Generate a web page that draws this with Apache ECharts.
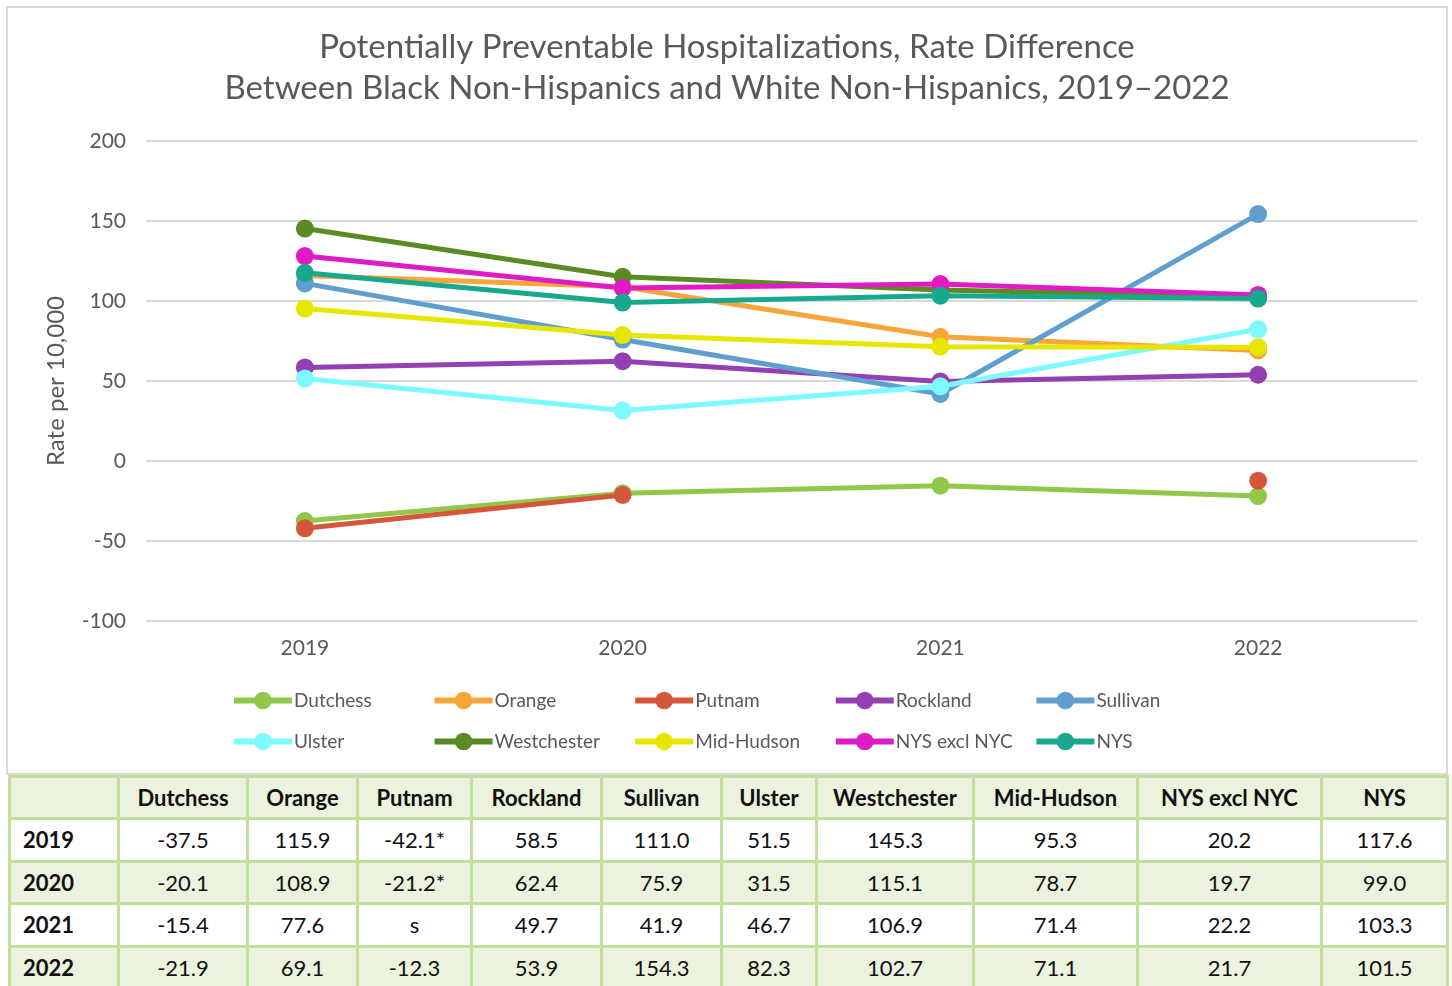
<!DOCTYPE html>
<html>
<head>
<meta charset="utf-8">
<script src="https://cdn.jsdelivr.net/npm/echarts@6/dist/echarts.min.js"></script>
<style>
  body { margin: 0; background: #fff; font-family: Lato, sans-serif; }
  #chart {
    position: absolute; left: 6px; top: 6px;
    width: 1438px; height: 765px;
    border: 2px solid #d9d9d9;
  }
  #tbl {
    position: absolute; left: 8px; top: 775px;
    border-collapse: collapse; table-layout: fixed;
    font-family: Lato, sans-serif; font-size: 22px; color: #111;
  }
  #tbl td, #tbl th {
    border: 3px solid #c3df9c; text-align: center; padding: 0;
    height: 39.5px;
  }
  #tbl th { font-weight: bold; background: #ebf3de; height: 39px; }
  #tbl td.lab { font-weight: bold; text-align: left; padding-left: 12px; }
  #tbl tr.alt td { background: #ebf3de; }
</style>
</head>
<body>
<div id="chart"></div>
<table id="tbl"></table>
<script>
// data
const years = ['2019', '2020', '2021', '2022']
const names = ['Dutchess', 'Orange', 'Putnam', 'Rockland', 'Sullivan', 'Ulster', 'Westchester', 'Mid-Hudson', 'NYS excl NYC', 'NYS']
const colors = ['#92c84a', '#f9a53a', '#d5573b', '#9440b0', '#5e9fd0', '#7dfaff', '#5a8a22', '#e6e600', '#e01bc5', '#17a98d']
const dutchess = [-37.5, -20.1, -15.4, -21.9]
const orange = [115.9, 108.9, 77.6, 69.1]
const putnam = [-42.1, -21.2, null, -12.3]
const rockland = [58.5, 62.4, 49.7, 53.9]
const sullivan = [111.0, 75.9, 41.9, 154.3]
const ulster = [51.5, 31.5, 46.7, 82.3]
const westchester = [145.3, 115.1, 106.9, 102.7]
const midHudson = [95.3, 78.7, 71.4, 71.1]
const nysExclNycPlotted = [128.1, 108.1, 110.6, 103.8]
const nys = [117.6, 99.0, 103.3, 101.5]
const yTicks = [-100, 200, 50]

// table text
const tableRows = [
  ['-37.5', '115.9', '-42.1*', '58.5', '111.0', '51.5', '145.3', '95.3', '20.2', '117.6'],
  ['-20.1', '108.9', '-21.2*', '62.4', '75.9', '31.5', '115.1', '78.7', '19.7', '99.0'],
  ['-15.4', '77.6', 's', '49.7', '41.9', '46.7', '106.9', '71.4', '22.2', '103.3'],
  ['-21.9', '69.1', '-12.3', '53.9', '154.3', '82.3', '102.7', '71.1', '21.7', '101.5']
]
const colWidths = [109, 129, 110, 114, 130, 120, 95, 157, 164, 184, 126]

const seriesData = [dutchess, orange, putnam, rockland, sullivan, ulster, westchester, midHudson, nysExclNycPlotted, nys]

const chart = echarts.init(document.getElementById('chart'))
const txt = '#595959'
const font = 'Lato, sans-serif'

const legends = []
for (let c = 0; c < 5; c++) {
  legends.push({
    orient: 'vertical',
    left: 218 + c * 200.6,
    top: 678,
    itemWidth: 58,
    itemHeight: 22,
    itemGap: 22,
    data: [names[c], names[c + 5]],
    lineStyle: { width: 6 },
    textStyle: { color: txt, fontSize: 19, fontFamily: font, padding: [0, 0, 0, -3] }
  })
}

chart.setOption({
  animation: false,
  title: {
    text: 'Potentially Preventable Hospitalizations, Rate Difference\nBetween Black Non-Hispanics and White Non-Hispanics, 2019\u20132022',
    left: 'center',
    top: 14,
    textStyle: { color: txt, fontSize: 33, fontWeight: 'normal', fontFamily: font, lineHeight: 41 }
  },
  legend: legends,
  grid: { left: 138, top: 133, width: 1271, height: 480 },
  xAxis: {
    type: 'category',
    data: years,
    axisLine: { show: false },
    axisTick: { show: false },
    axisLabel: { color: txt, fontSize: 21, fontFamily: font, margin: 17 }
  },
  yAxis: {
    type: 'value',
    min: yTicks[0],
    max: yTicks[1],
    interval: yTicks[2],
    name: 'Rate per 10,000',
    nameLocation: 'middle',
    nameGap: 78,
    nameTextStyle: { color: txt, fontSize: 24, fontFamily: font },
    axisLabel: { color: txt, fontSize: 21, fontFamily: font, margin: 20 },
    splitLine: { lineStyle: { color: '#d9d9d9', width: 2 } }
  },
  series: names.map((n, i) => ({
    name: n,
    type: 'line',
    data: seriesData[i],
    symbol: 'circle',
    symbolSize: 18,
    color: colors[i],
    lineStyle: { width: 5, color: colors[i] },
    itemStyle: { color: colors[i] }
  }))
})

// table
const tbl = document.getElementById('tbl')
let html = '<colgroup>' + colWidths.map(w => '<col style="width:' + w + 'px">').join('') + '</colgroup>'
html += '<tr><th></th>' + names.map(n => '<th>' + n + '</th>').join('') + '</tr>'
tableRows.forEach((r, i) => {
  html += '<tr' + (i % 2 ? ' class="alt"' : '') + '><td class="lab">' + years[i] + '</td>' +
    r.map(v => '<td>' + v + '</td>').join('') + '</tr>'
})
tbl.innerHTML = html
</script>
</body>
</html>
